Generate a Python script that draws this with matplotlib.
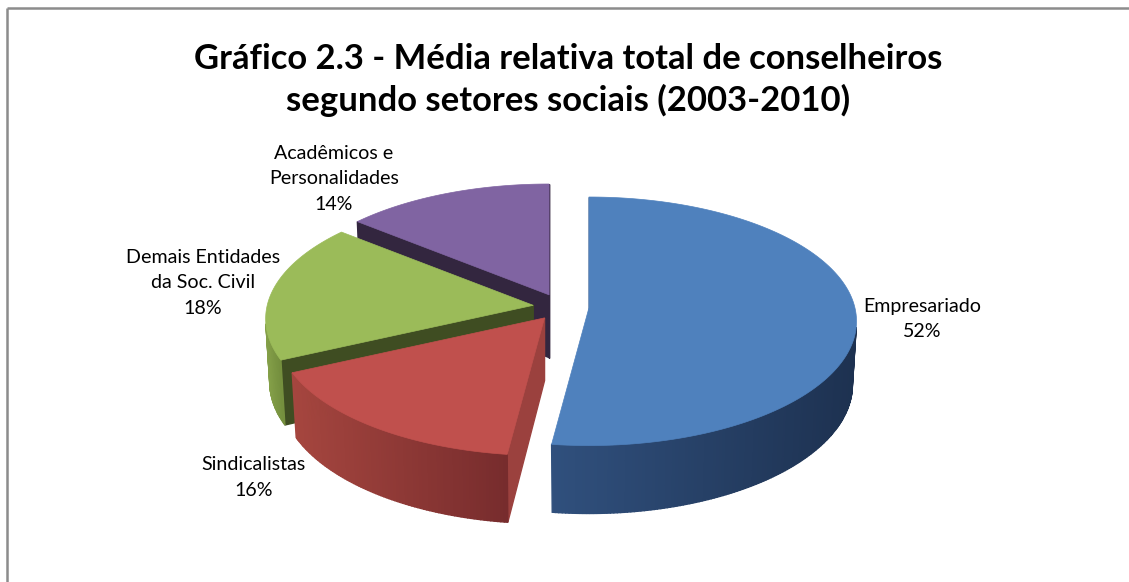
import numpy as np
import matplotlib
matplotlib.use('Agg')
import matplotlib.pyplot as plt
from matplotlib.patches import Polygon
import matplotlib.colors as mcolors

# ---------------- data ----------------
title = "Gráfico 2.3 - Média relativa total de conselheiros\nsegundo setores sociais (2003-2010)"
categories = ["Empresariado", "Sindicalistas", "Demais Entidades\nda Soc. Civil", "Acadêmicos e\nPersonalidades"]
values = [52, 16, 18, 14]
pct_labels = ["52%", "16%", "18%", "14%"]

# ---------------- style ----------------
top_colors = ['#4F81BD', '#C0504D', '#9BBB59', '#8064A2']
cut_colors = ['#22395A', '#9B413E', '#3F4D22', '#33263F']
wall_light = ['#30507D', '#A6463F', '#88A44B', '#5E4A78']
wall_dark = ['#1D3150', '#772C2D', '#728C3C', '#4A3A60']
label_pos = [(922, 319), (253.5, 477.5), (203, 283), (334, 179)]
label_width = [119, 103, 152, 131]
FONT = ['Lato', 'DejaVu Sans']

W, H = 1129, 582
fig = plt.figure(figsize=(W / 100, H / 100), dpi=100)
ax = fig.add_axes([0, 0, 1, 1])
ax.set_xlim(0, W)
ax.set_ylim(H, 0)
ax.axis('off')

# camera / perspective parameters
phi = np.radians(27.5)
D = 8.2
F = 266 * D
cx, cy = 561, 307
h = 0.27
e = 0.105            # explosion used for visibility / depth ordering
ex_d, ex_q = 28.0, 0.48   # explosion as screen offset (px)
cam = np.array([0.0, -D * np.cos(phi), D * np.sin(phi)])


def proj(X, Y, Z):
    depth = Y * np.cos(phi) - Z * np.sin(phi) + D
    up = Y * np.sin(phi) + Z * np.cos(phi)
    return cx + F * X / depth, cy - F * up / depth, depth


total = float(sum(values))
walls = []
tops = []

start = 90.0
cum = 0.0
for i, v in enumerate(values):
    a1 = start - cum / total * 360.0
    a2 = a1 - v / total * 360.0
    cum += v
    mid = np.radians((a1 + a2) / 2)
    ox, oy = e * np.cos(mid), e * np.sin(mid)
    sdx, sdy = ex_d * np.cos(mid), -ex_q * ex_d * np.sin(mid)

    def P2(xs, ys, zs):
        px, py, _ = proj(np.asarray(xs, float), np.asarray(ys, float), np.asarray(zs, float))
        return np.column_stack([px + sdx, py + sdy])

    # top face
    th = np.radians(np.linspace(a1, a2, 160))
    X = np.concatenate([[0.0], np.cos(th)])
    Y = np.concatenate([[0.0], np.sin(th)])
    tops.append((P2(X, Y, np.zeros_like(X)), top_colors[i]))

    # curved outer wall, small segments
    n = max(int(abs(a1 - a2) * 1.5), 8)
    th = np.radians(np.linspace(a2, a1, n + 1))
    segs = []
    for k in range(n):
        t0, t1 = th[k], th[k + 1]
        tm = 0.5 * (t0 + t1)
        P = np.array([ox + np.cos(tm), oy + np.sin(tm), -h / 2])
        nrm = np.array([np.cos(tm), np.sin(tm), 0.0])
        if np.dot(cam - P, nrm) <= 0:
            continue
        xs = [np.cos(t0), np.cos(t1), np.cos(t1), np.cos(t0)]
        ys = [np.sin(t0), np.sin(t1), np.sin(t1), np.sin(t0)]
        zs = [0, 0, -h, -h]
        _, _, dp = proj(P[0], P[1], P[2])
        segs.append((dp, P2(xs, ys, zs)))
    if segs:
        allx = np.concatenate([s[1][:, 0] for s in segs])
        xmin, xmax = allx.min(), allx.max()
        c0 = np.array(mcolors.to_rgb(wall_light[i]))
        c1 = np.array(mcolors.to_rgb(wall_dark[i]))
        for dp, verts in segs:
            t = (verts[:, 0].mean() - xmin) / max(xmax - xmin, 1e-6)
            col = c0 + (c1 - c0) * t
            walls.append((dp, verts, tuple(col)))

    # radial cut walls
    for ang, sgn in ((a1, 90.0), (a2, -90.0)):
        ra = np.radians(ang)
        na = np.radians(ang + sgn)
        P = np.array([ox + 0.5 * np.cos(ra), oy + 0.5 * np.sin(ra), -h / 2])
        nrm = np.array([np.cos(na), np.sin(na), 0.0])
        if np.dot(cam - P, nrm) <= 0:
            continue
        xs = [0, np.cos(ra), np.cos(ra), 0]
        ys = [0, np.sin(ra), np.sin(ra), 0]
        zs = [0, 0, -h, -h]
        _, _, dp = proj(P[0], P[1], P[2])
        walls.append((dp, P2(xs, ys, zs), cut_colors[i]))

walls.sort(key=lambda w: -w[0])
for dp, verts, col in walls:
    ax.add_patch(Polygon(verts, closed=True, facecolor=col, edgecolor=col, lw=1.0,
                         joinstyle='miter', zorder=2))
for verts, col in tops:
    ax.add_patch(Polygon(verts, closed=True, facecolor=col, edgecolor=col, lw=0.5, zorder=3))

# border of chart area
ax.plot([6.5, 6.5], [H, 7.5], color='#8C8C8C', lw=1.8, solid_capstyle='butt', zorder=5)
ax.plot([6.5, W], [7.5, 7.5], color='#8C8C8C', lw=1.8, solid_capstyle='butt', zorder=5)

# ---------------- texts ----------------
fig.canvas.draw()


def width_of(t):
    return t.get_window_extent(fig.canvas.get_renderer()).width


def height_of(t):
    return t.get_window_extent(fig.canvas.get_renderer()).height


def set_pitch(t, pitch, nlines, ls=1.2):
    txt = t.get_text()
    t.set_linespacing(ls)
    t.set_text(txt.split('\n')[0])
    fig.canvas.draw()
    h1 = height_of(t)
    t.set_text(txt)
    fig.canvas.draw()
    hn = height_of(t)
    cur = (hn - h1) / (nlines - 1)
    t.set_linespacing(ls * pitch / cur)


# title
tt = ax.text(568, 80, title, ha='center', va='center', ma='center',
             fontsize=20, fontweight='bold', family=FONT, color='black', zorder=6)
fig.canvas.draw()
tt.set_fontsize(20 * 749 / width_of(tt))
set_pitch(tt, 42, 2)

# labels
texts = []
ratios = []
for i, cat in enumerate(categories):
    lbl = cat + "\n" + pct_labels[i]
    t = ax.text(label_pos[i][0], label_pos[i][1], lbl, ha='center', va='center', ma='center',
                fontsize=12, family=FONT, color='black', zorder=6)
    texts.append(t)
fig.canvas.draw()
for i, t in enumerate(texts):
    ratios.append(label_width[i] / width_of(t))
fs = 12 * float(np.median(ratios))
for t in texts:
    t.set_fontsize(fs)
for t in texts:
    set_pitch(t, 26, t.get_text().count('\n') + 1)

fig.savefig('out.png', dpi=100, facecolor='white')
